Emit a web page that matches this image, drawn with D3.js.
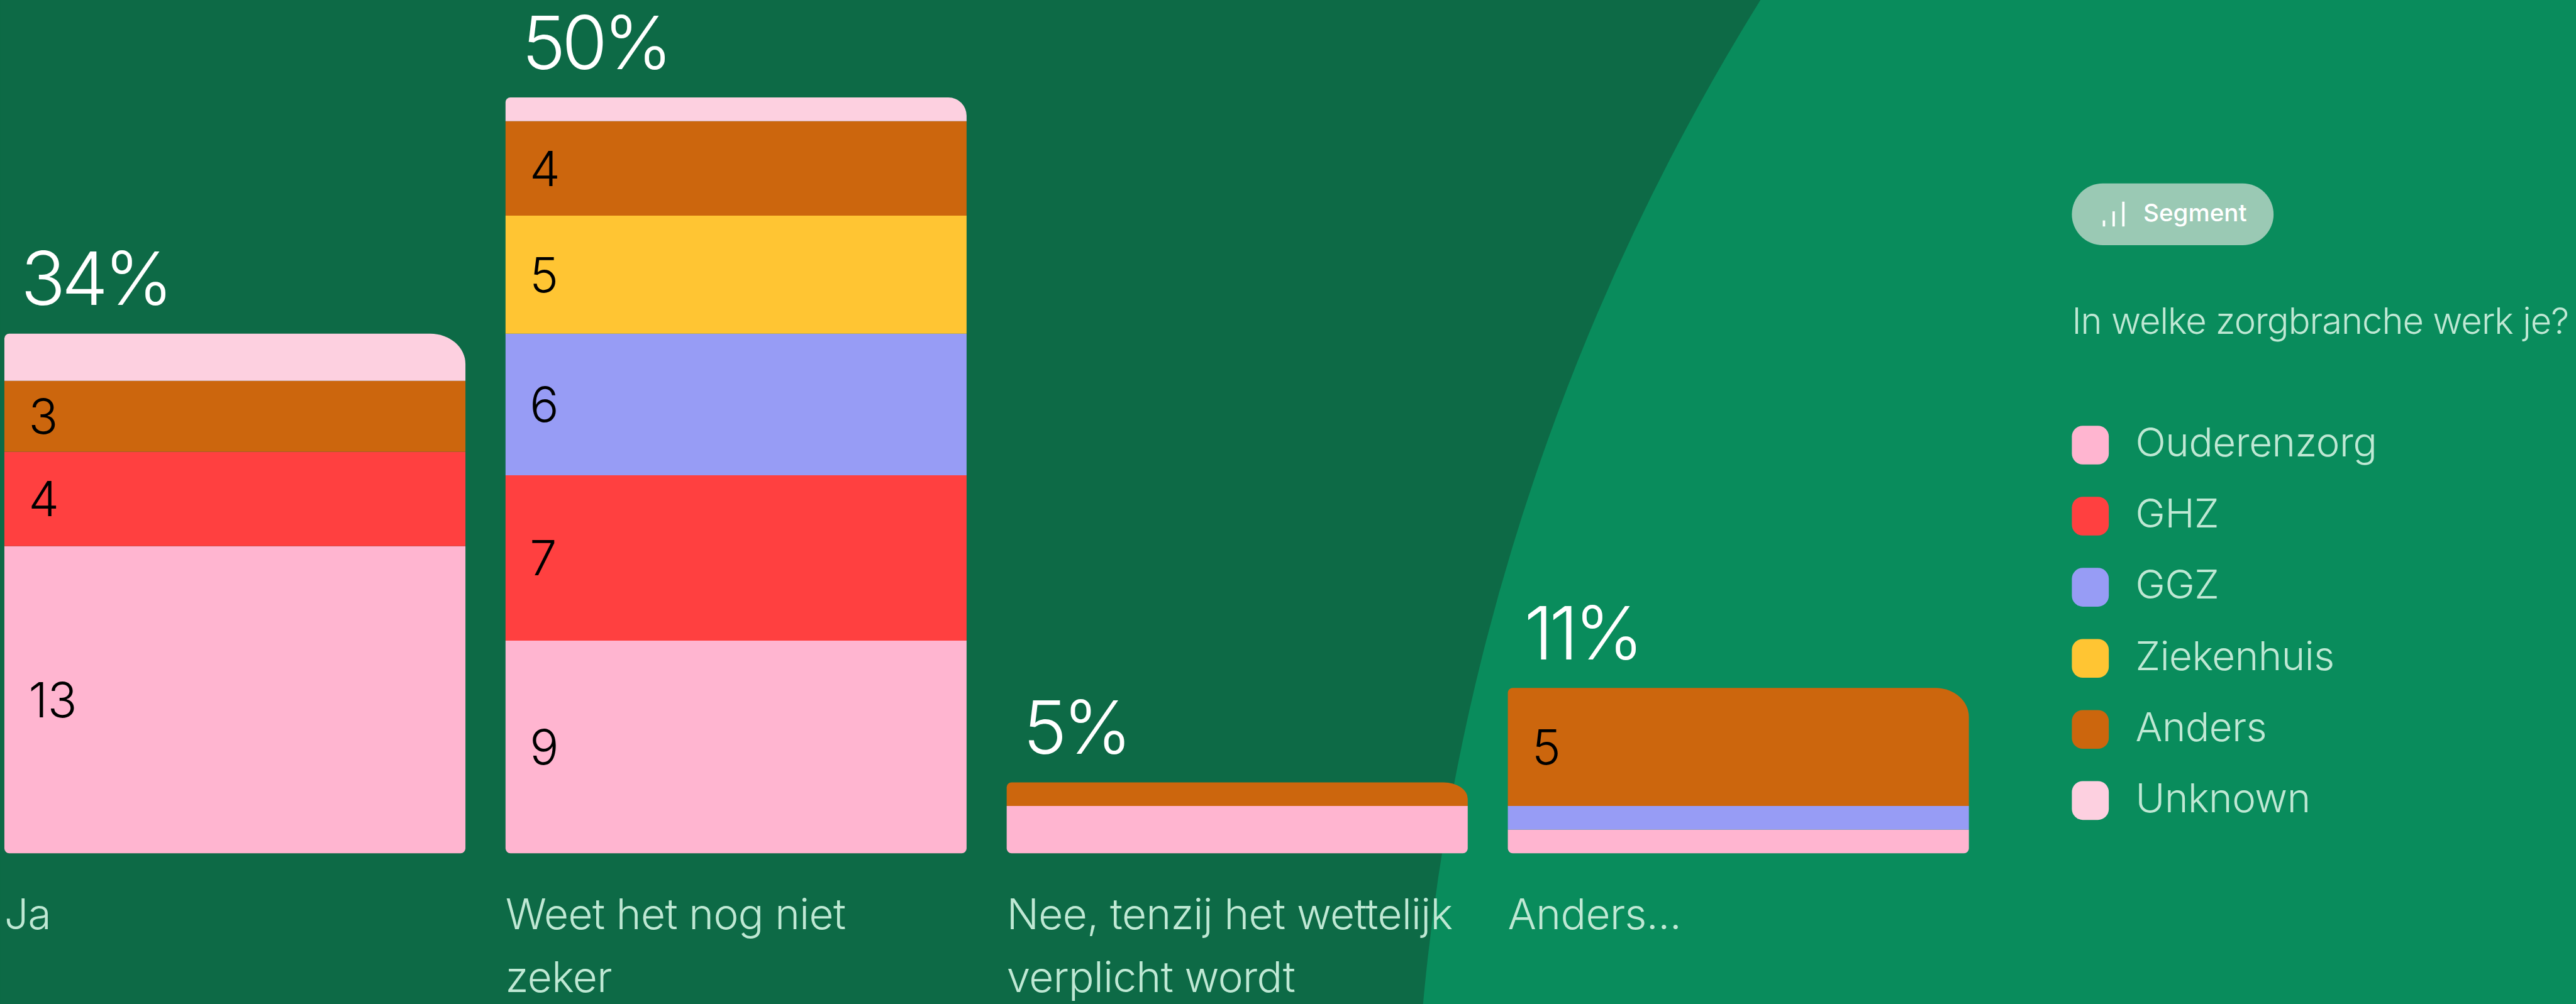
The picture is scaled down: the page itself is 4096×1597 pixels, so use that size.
<!DOCTYPE html>
<html>
<head>
<meta charset="utf-8">
<script src="https://cdn.jsdelivr.net/npm/d3@7"></script>
<style>
html,body{margin:0;padding:0;background:#0d6a46;overflow:hidden}
svg{display:block}
text{font-family:Inter,"Noto Sans",sans-serif}
</style>
</head>
<body>
<svg id="c" width="4096" height="1597" viewBox="0 0 4252 1658"></svg>
<script>
const categories = ["Ja","Weet het nog niet zeker","Nee, tenzij het wettelijk verplicht wordt","Anders..."];
const tickLines = [["Ja"],["Weet het nog niet","zeker"],["Nee, tenzij het wettelijk","verplicht wordt"],["Anders..."]];
const percentLabels = ["34%","50%","5%","11%"];
const segments = ["Ouderenzorg","GHZ","GGZ","Ziekenhuis","Anders","Unknown"];
const ouderenzorg = [13,9,2,1];
const ghz = [4,7,0,0];
const ggz = [0,6,0,1];
const ziekenhuis = [0,5,0,0];
const anders = [3,4,1,5];
const unknown = [2,1,0,0];
const segmentValues = [ouderenzorg,ghz,ggz,ziekenhuis,anders,unknown];
const segmentColors = ["#ffb5d0","#ff4040","#979cf5","#ffc533","#cc660d","#fdd0e0"];
const legendTitle = "In welke zorgbranche werk je?";
const badgeText = "Segment";

const W = 4252, H = 1658;
const svg = d3.select("#c");
const BG_DARK = "#0d6a46", BG_LIGHT = "#098c5c", TXT = "#bfe8d4";
svg.append("rect").attr("width",W).attr("height",H).attr("fill",BG_DARK);
svg.append("circle").attr("cx",6129.6).attr("cy",2005.6).attr("r",3796.6).attr("fill",BG_LIGHT);

const x = d3.scaleBand().domain(categories).range([7,3250]).paddingInner(0.08);
const y = d3.scaleLinear().domain([0,32]).range([1409,161]);

const rows = categories.map((c,i)=>{
  const r = {cat:c};
  segments.forEach((s,j)=> r[s]=segmentValues[j][i]);
  return r;
});
const stacked = d3.stack().keys(segments)(rows);
const color = d3.scaleOrdinal().domain(segments).range(segmentColors);

// large top-right corners in the original vary by bar
const topRight = {[categories[0]]:[58,50],[categories[1]]:[30,30],[categories[2]]:[40,27],[categories[3]]:[55,48]};
const SMALL = 8;
function segPath(x0,y0,x1,y1,isTop,isBottom,cat){
  const [rx,ry] = isTop ? topRight[cat] : [0,0];
  const tl = isTop ? SMALL : 0, bl = isBottom ? SMALL : 0;
  let d = `M${x0},${y0+tl}`;
  if(tl) d += `A${tl},${tl} 0 0 1 ${x0+tl},${y0}`;
  d += `L${x1-rx},${y0}`;
  if(rx) d += `A${rx},${ry} 0 0 1 ${x1},${y0+ry}`;
  d += `L${x1},${y1-bl}`;
  if(bl) d += `A${bl},${bl} 0 0 1 ${x1-bl},${y1}L${x0+bl},${y1}A${bl},${bl} 0 0 1 ${x0},${y1-bl}`;
  else d += `L${x0},${y1}`;
  return d+"Z";
}

const bars = svg.append("g");
stacked.forEach((layer,li)=>{
  const key = layer.key;
  layer.forEach(pt=>{
    const cat = pt.data.cat;
    if(pt[1]-pt[0] <= 0) return;
    const total = d3.sum(segments,s=>pt.data[s]);
    const x0 = x(cat), x1 = x0+x.bandwidth();
    bars.append("path")
      .attr("d",segPath(x0,y(pt[1]),x1,y(pt[0]),pt[1]===total,pt[0]===0,cat))
      .attr("fill",color(key));
    if(pt[1]-pt[0] >= 3){
      bars.append("text")
        .attr("x",x0+40)
        .attr("y",(y(pt[0])+y(pt[1]))/2)
        .attr("dy","0.36em")
        .attr("font-size",80).attr("font-weight",300)
        .attr("fill","#000")
        .text(pt[1]-pt[0]);
    }
  });
});

// totals
const totals = rows.map(r=>d3.sum(segments,s=>r[s]));
svg.append("g").selectAll("text").data(categories).join("text")
  .attr("x",d=>x(d)+27)
  .attr("y",(d,i)=>y(totals[i])-47)
  .attr("font-size",122).attr("font-weight",300).attr("fill","#fff")
  .attr("letter-spacing",-6.5)
  .text((d,i)=>percentLabels[i]);

// category axis
const axis = svg.append("g").attr("transform",`translate(0,${y(0)})`)
  .call(d3.axisBottom(x).tickSize(0).tickSizeOuter(0));
axis.select(".domain").remove();
axis.selectAll(".tick").attr("transform",d=>`translate(${x(d)},0)`);
axis.selectAll(".tick text").each(function(d,i){
  const t = d3.select(this).attr("x",0).attr("y",0).attr("dy",null)
    .attr("text-anchor","start").attr("fill",TXT)
    .style("font-family",'Inter,"Noto Sans",sans-serif')
    .attr("font-size",70).attr("font-weight",300).attr("letter-spacing",-0.6).text(null);
  tickLines[i].forEach((ln,k)=>{
    t.append("tspan").attr("x",0).attr("y",125+k*104).text(ln);
  });
});

// legend
const LX = 3420;
const badge = svg.append("g");
badge.append("rect").attr("x",LX).attr("y",303).attr("width",333).attr("height",102).attr("rx",51).attr("fill","#9ac9b4");
const iconBars = [10,25,41];
iconBars.forEach((h,i)=>{
  badge.append("line").attr("x1",3473+i*16).attr("x2",3473+i*16).attr("y1",374).attr("y2",374-h)
    .attr("stroke","#fff").attr("stroke-width",4);
});
badge.append("text").attr("x",3538).attr("y",365).attr("font-size",40).attr("font-weight",500).attr("fill","#fff").text(badgeText);

svg.append("text").attr("x",LX).attr("y",551).attr("font-size",60).attr("font-weight",300).attr("letter-spacing",-1).attr("fill",TXT).text(legendTitle);

const ly = d3.scalePoint().domain(segments).range([735,1322]);
const leg = svg.append("g").selectAll("g").data(segments).join("g")
  .attr("transform",d=>`translate(${LX},${ly(d)})`);
leg.append("rect").attr("y",-32).attr("width",61).attr("height",64).attr("rx",18).attr("fill",d=>color(d));
leg.append("text").attr("x",105).attr("y",19).attr("font-size",66).attr("font-weight",300).attr("letter-spacing",-0.4).attr("fill",TXT).text(d=>d);
</script>
</body>
</html>
